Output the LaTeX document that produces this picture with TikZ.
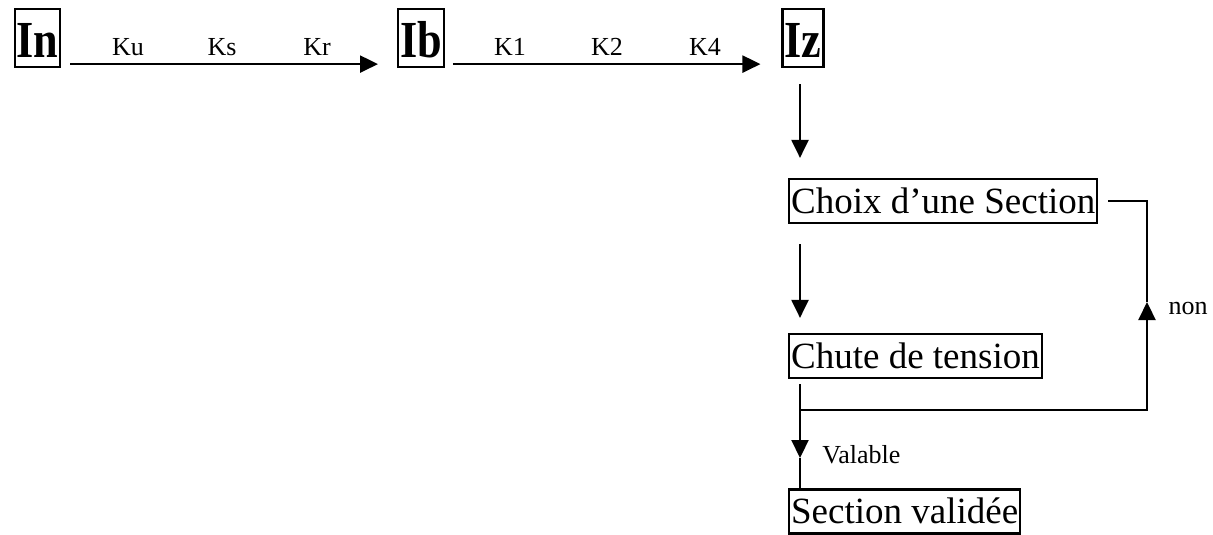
\documentclass[tikz,border=0pt]{standalone}
\usepackage{fontspec}
\setmainfont{Liberation Serif}
\usepackage{tikz}
\usetikzlibrary{arrows.meta}

\newcommand{\etroit}[1]{\scalebox{0.85}[1]{#1}}

\begin{document}
\begin{tikzpicture}[x=1pt, y=-1pt,
  courant/.style={draw, line width=2.2pt, inner xsep=2pt, inner ysep=0pt,
    font=\fontsize{52}{56}\selectfont\bfseries, text height=49pt, text depth=9pt},
  etape/.style={draw, line width=2.2pt, inner xsep=2pt, inner ysep=0pt, anchor=west,
    font=\fontsize{37}{40}\selectfont, text height=34pt, text depth=10pt},
  coef/.style={anchor=base, font=\fontsize{26}{28}\selectfont},
  fleche/.style={line width=2.2pt, -{Triangle[length=18pt,width=17pt]}}]

\useasboundingbox (0,0) rectangle (1213,535);

% courants
\node[courant] (In) at (37.5,38) {\etroit{In}};
\node[courant] (Ib) at (421,38) {\etroit{Ib}};
\node[courant] (Iz) at (803,38) {\etroit{Iz}};

\draw[fleche, shorten <=9pt, shorten >=19pt] ([yshift=4pt]In.south east) -- ([yshift=4pt]Ib.south west);
\draw[fleche, shorten <=8pt, shorten >=21pt] ([yshift=4pt]Ib.south east) -- ([yshift=4pt]Iz.south west);

\node[coef] (Ku) at (128,56) {Ku};
\node[coef] (Ks) at (222,56) {Ks};
\node[coef] (Kr) at (317,56) {Kr};
\node[coef] (Kun) at (510,56) {K1};
\node[coef] (Kdeux) at (607,56) {K2};
\node[coef] (Kquatre) at (705,56) {K4};

% choix de la section
\coordinate (col) at (800,0);
\node[etape] (Choix) at (788,201) {Choix d’une Section};
\node[etape] (Chute) at (788,356) {Chute de tension};
\node[etape] (Section) at (788,511.5) {Section validée};

\draw[fleche, shorten <=16pt, shorten >=20pt] (Iz.south -| col) -- (Choix.north -| col);
\draw[fleche, shorten <=20pt, shorten >=15pt] (Choix.south -| col) -- (Chute.north -| col);

\coordinate (valable) at (800,458);
\coordinate (embranchement) at (800,410);
\coordinate (retour) at (1147,302);

\draw[fleche, shorten <=5pt] (Chute.south -| col) -- (valable)
  node[coef, anchor=west, xshift=18pt, yshift=3pt] (Val) {Valable};
\draw[line width=1.4pt] (valable) -- (Section.north -| col);

%\draw[fleche] (Chute.east) -| (Choix.east);
\draw[fleche] (embranchement) -| (retour);
\draw[line width=2.2pt] ([xshift=10pt]Choix.east) -| (retour);
\node[coef, anchor=west] (non) at (1165,308) {non};

\end{tikzpicture}
\end{document}
